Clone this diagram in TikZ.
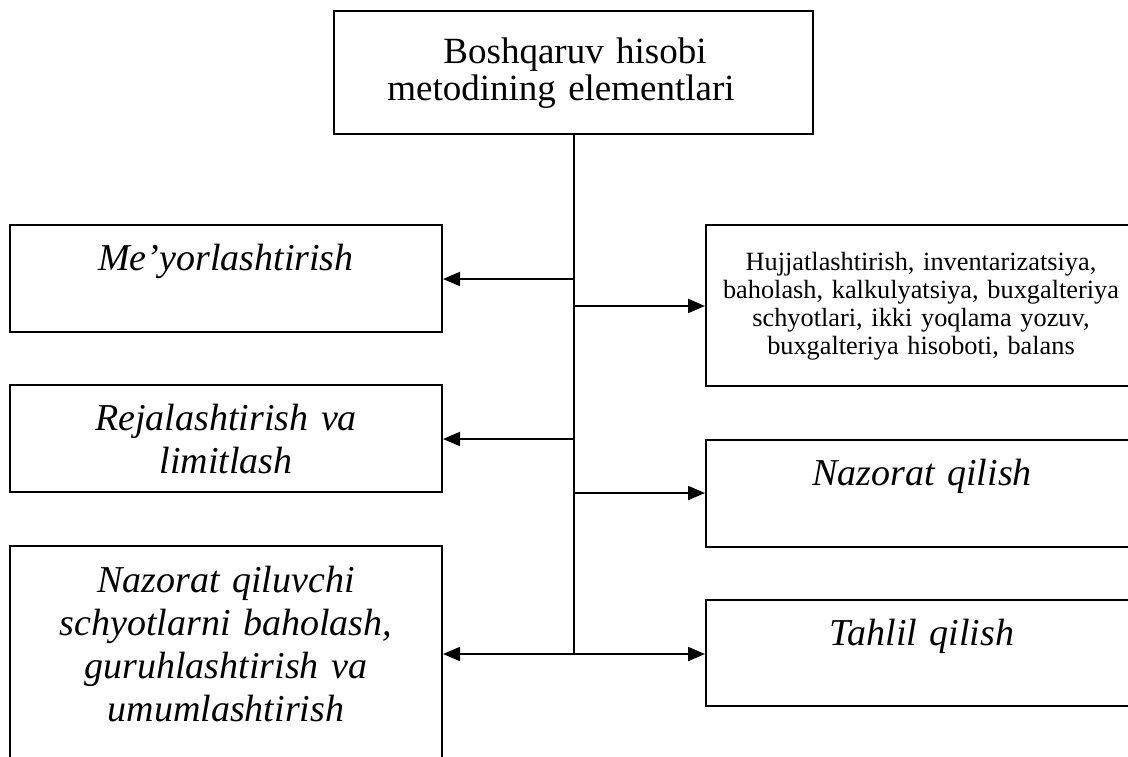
\documentclass[tikz,border=0pt]{standalone}
\usepackage{fontspec}
\setmainfont{Liberation Serif}
\usetikzlibrary{arrows.meta}
\begin{document}
\begin{tikzpicture}[x=1pt,y=-1pt,
  box/.style={draw,line width=2pt,inner sep=0pt,minimum width=432pt},
  bigtxt/.style={inner sep=0pt,anchor=base,align=center,text width=430pt,
    font=\fontsize{38}{43}\selectfont\itshape},
  smalltxt/.style={inner sep=0pt,anchor=base,align=center,text width=600pt,
    font=\fontsize{26.3}{28.3}\selectfont},
  toptxt/.style={inner sep=0pt,anchor=base,align=center,text width=470pt,
    font=\fontsize{37}{37}\selectfont},
  line/.style={line width=2pt},
  arr/.style={line width=2pt,-{Triangle[length=17pt,width=14pt]}}]
\useasboundingbox (0,0) rectangle (1128,756);
\clip (0,0) rectangle (1128,756);
% top box
\node[box,minimum width=479pt,minimum height=123pt] (top) at (573.5,72.5) {};
\node[toptxt] (tt) at (561,63) {\hspace*{28pt}Boshqaruv hisobi\\metodining elementlari};
% left boxes
\node[box,minimum height=107pt] (L1) at (226,278.5) {};
\node[bigtxt] (L1t) at (226,270) {Me’yorlashtirish};
\node[box,minimum height=107pt] (L2) at (226,438.5) {};
\node[bigtxt] (L2t) at (226,430) {Rejalashtirish va\\limitlash};
\node[box,minimum height=230pt] (L3) at (226,661) {};
\node[bigtxt] (L3t) at (226,592) {Nazorat qiluvchi\\schyotlarni baholash,\\guruhlashtirish va\\umumlashtirish};
% right boxes
\node[box,minimum height=161pt] (R1) at (922,305.5) {};
\node[smalltxt] (R1t) at (921,270) {Hujjatlashtirish, inventarizatsiya,\\baholash, kalkulyatsiya, buxgalteriya\\schyotlari, ikki yoqlama yozuv,\\buxgalteriya hisoboti, balans};
\node[box,minimum height=107pt] (R2) at (922,493.5) {};
\node[bigtxt] (R2t) at (922,485) {Nazorat qilish};
\node[box,minimum height=106pt] (R3) at (922,653) {};
\node[bigtxt] (R3t) at (922,645) {Tahlil qilish};
% spine
\coordinate (s1) at (574,279);
\coordinate (s2) at (574,306);
\coordinate (s3) at (574,439);
\coordinate (s4) at (574,493);
\coordinate (s5) at (574,654);
\draw[line] (top.south -| s5) -- (s5);
\draw[arr] (s1) -- (s1 -| L1.east);
\draw[arr] (s2) -- (s2 -| R1.west);
\draw[arr] (s3) -- (s3 -| L2.east);
\draw[arr] (s4) -- (s4 -| R2.west);
\draw[arr] (s5) -- (s5 -| L3.east);
\draw[arr] (s5) -- (s5 -| R3.west);
\end{tikzpicture}
\end{document}
